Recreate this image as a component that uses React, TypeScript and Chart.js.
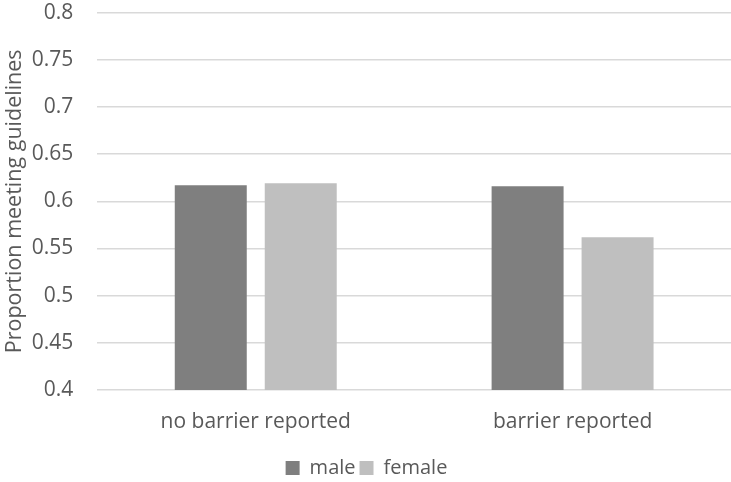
import React, { useEffect, useRef } from "react";
import { Chart, registerables } from "chart.js";

Chart.register(...registerables);

const categories = ["no barrier reported", "barrier reported"];
const maleValues = [0.617, 0.616];
const femaleValues = [0.619, 0.562];
const seriesNames = ["male", "female"];

export default function App() {
  const ref = useRef<HTMLCanvasElement>(null);
  useEffect(() => {
    if (!ref.current) return;
    const font = "'Open Sans', 'Noto Sans', sans-serif";
    const chart = new Chart(ref.current, {
      type: "bar",
      data: {
        labels: categories,
        datasets: [
          { label: seriesNames[0], data: maleValues, backgroundColor: "#7f7f7f", categoryPercentage: 0.568, barPercentage: 0.8 },
          { label: seriesNames[1], data: femaleValues, backgroundColor: "#bfbfbf", categoryPercentage: 0.568, barPercentage: 0.8 },
        ],
      },
      options: {
        animation: false,
        responsive: false,
        maintainAspectRatio: false,
        layout: { padding: { top: 0, right: 0, bottom: -6, left: 2 } },
        plugins: {
          tooltip: { enabled: false },
          legend: {
            position: "bottom",
            labels: {
              boxWidth: 14,
              boxHeight: 14,
              padding: 4,
              color: "#595959",
              font: { family: font, size: 20 },
            },
          },
        },
        scales: {
          x: {
            grid: { display: false, drawTicks: false },
            border: { display: false },
            ticks: { color: "#595959", padding: 25, font: { family: font, size: 21, lineHeight: "14px" } },
          },
          y: {
            min: 0.4,
            max: 0.8,
            ticks: {
              stepSize: 0.05,
              color: "#595959",
              padding: 0,
              font: { family: font, size: 21 },
              callback: (v: any) => String(Math.round(Number(v) * 100) / 100),
            },
            grid: { color: "#d9d9d9", lineWidth: 1.5, drawTicks: true, tickLength: 24, tickColor: "rgba(0,0,0,0)" },
            border: { display: false },
            title: {
              display: true,
              text: "Proportion meeting guidelines",
              color: "#595959",
              font: { family: font, size: 21.5 },
              padding: { top: 0, bottom: 4 },
            },
          },
        },
      },
    });
    return () => chart.destroy();
  }, []);
  return (
    <div style={{ position: "fixed", left: 0, top: 0, width: 731, height: 482, background: "#fff" }}>
      <canvas ref={ref} width={731} height={482} style={{ display: "block" }} />
    </div>
  );
}
